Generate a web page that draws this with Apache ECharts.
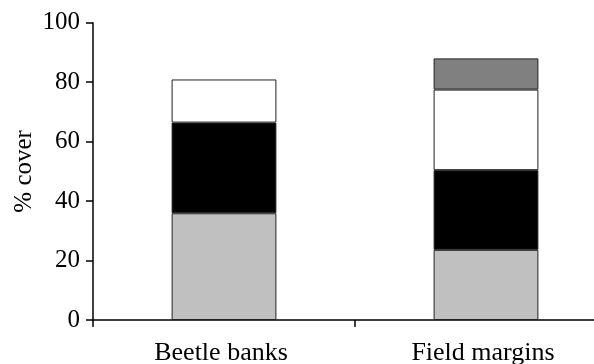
<!DOCTYPE html>
<html>
<head>
<meta charset="utf-8">
<script src="https://cdn.jsdelivr.net/npm/echarts@6/dist/echarts.min.js"></script>
<style>html,body{margin:0;padding:0;background:#fff}#c{width:594px;height:364px}</style>
</head>
<body>
<div id="c"></div>
<script>
const categories = ['Beetle banks', 'Field margins'];
const lightGray = [35.9, 23.6];
const blackPart = [30.5, 26.8];
const whitePart = [14.5, 27.1];
const darkGray = ['-', 10.5];
const yTicks = [0, 20, 40, 60, 80, 100];

const font = '"Liberation Serif", "Times New Roman", serif';
const chart = echarts.init(document.getElementById('c'), null, {renderer: 'canvas'});
function mk(name, data, color) {
  return {
    name: name, type: 'bar', stack: 'a', data: data, barWidth: '40%',
    itemStyle: {color: color, borderColor: '#222', borderWidth: 1},
    emphasis: {disabled: true}
  };
}
chart.setOption({
  animation: false,
  backgroundColor: '#fff',
  grid: {left: 93, top: 22.7, bottom: 44, width: 524, containLabel: false, outerBoundsMode: 'none'},
  xAxis: {
    type: 'category', data: categories,
    axisLine: {lineStyle: {color: '#000', width: 1.5}},
    axisTick: {show: true, alignWithLabel: false, length: 7, lineStyle: {color: '#000', width: 1.5}},
    axisLabel: {color: '#000', fontFamily: font, fontSize: 26, margin: 20, padding: [0, 6, 0, 0]}
  },
  yAxis: {
    type: 'value', min: yTicks[0], max: yTicks[yTicks.length - 1], interval: 20,
    name: '% cover', nameLocation: 'middle', nameGap: 56, nameRotate: 90, nameMoveOverlap: false,
    nameTextStyle: {color: '#000', fontFamily: font, fontSize: 25},
    splitLine: {show: false},
    axisLine: {show: true, lineStyle: {color: '#000', width: 1.5}},
    axisTick: {show: true, length: 7, lineStyle: {color: '#000', width: 1.5}},
    axisLabel: {color: '#000', fontFamily: font, fontSize: 25, margin: 13, padding: [6, 0, 0, 0]}
  },
  series: [
    mk('a', lightGray, '#c0c0c0'),
    mk('b', blackPart, '#000000'),
    mk('c', whitePart, '#ffffff'),
    mk('d', darkGray, '#808080')
  ]
});
</script>
</body>
</html>
